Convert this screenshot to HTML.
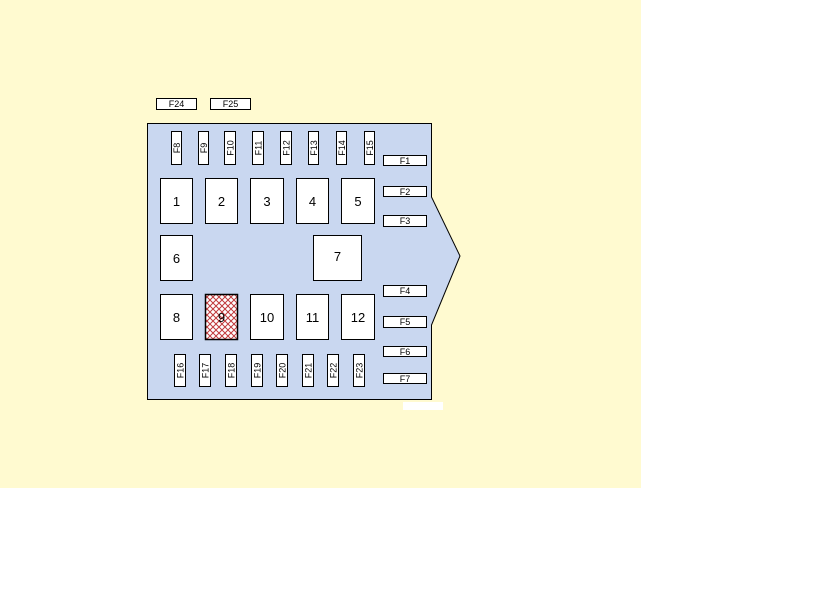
<!DOCTYPE html>
<html><head><style>
html,body{margin:0;padding:0;background:#fff;}
svg{display:block;}
text{font-family:"Liberation Sans",sans-serif;fill:#000;}
</style></head><body>
<svg width="820" height="615" viewBox="0 0 820 615" xmlns="http://www.w3.org/2000/svg">
<defs>
<pattern id="x" width="6" height="6" patternUnits="userSpaceOnUse">
<rect width="6" height="6" fill="#fff"/>
<path d="M0 0L6 6M6 0L0 6" stroke="#c0393b" stroke-width="1"/>
</pattern>
</defs>
<rect x="0" y="0" width="641" height="488" fill="#fffad0"/>
<rect x="403" y="402" width="40" height="8" fill="#fff"/>
<path d="M147.5 123.5H431.5V197L460 256L431.5 325V399.5H147.5Z" fill="#c9d7f0" stroke="#000" stroke-width="1"/>
<g stroke="#000" stroke-width="1" fill="#fff">
<rect x="156.5" y="98.5" width="40" height="11"/>
<rect x="210.5" y="98.5" width="40" height="11"/>
<rect x="383.5" y="155.5" width="43" height="10"/>
<rect x="383.5" y="186.5" width="43" height="10"/>
<rect x="383.5" y="215.5" width="43" height="11"/>
<rect x="383.5" y="285.5" width="43" height="11"/>
<rect x="383.5" y="316.5" width="43" height="11"/>
<rect x="383.5" y="346.5" width="43" height="10"/>
<rect x="383.5" y="373.5" width="43" height="10"/>
<rect x="171.5" y="131.5" width="10" height="33"/>
<rect x="198.5" y="131.5" width="10" height="33"/>
<rect x="224.5" y="131.5" width="11" height="33"/>
<rect x="252.5" y="131.5" width="11" height="33"/>
<rect x="280.5" y="131.5" width="11" height="33"/>
<rect x="308.5" y="131.5" width="10" height="33"/>
<rect x="336.5" y="131.5" width="10" height="33"/>
<rect x="364.5" y="131.5" width="10" height="33"/>
<rect x="174.5" y="354.5" width="11" height="32"/>
<rect x="199.5" y="354.5" width="11" height="32"/>
<rect x="225.5" y="354.5" width="11" height="32"/>
<rect x="251.5" y="354.5" width="11" height="32"/>
<rect x="276.5" y="354.5" width="11" height="32"/>
<rect x="302.5" y="354.5" width="11" height="32"/>
<rect x="327.5" y="354.5" width="11" height="32"/>
<rect x="353.5" y="354.5" width="11" height="32"/>
<rect x="160.5" y="178.5" width="32" height="45"/>
<rect x="205.5" y="178.5" width="32" height="45"/>
<rect x="250.5" y="178.5" width="33" height="45"/>
<rect x="296.5" y="178.5" width="32" height="45"/>
<rect x="341.5" y="178.5" width="33" height="45"/>
<rect x="160.5" y="235.5" width="32" height="45"/>
<rect x="313.5" y="235.5" width="48" height="45"/>
<rect x="160.5" y="294.5" width="32" height="45"/>
<rect x="250.5" y="294.5" width="33" height="45"/>
<rect x="296.5" y="294.5" width="32" height="45"/>
<rect x="341.5" y="294.5" width="33" height="45"/>
</g>
<rect x="205.5" y="294.5" width="32" height="45" fill="url(#x)" stroke="#000" stroke-width="1.5"/>
<g font-size="9" text-anchor="middle">
<text x="176.5" y="107">F24</text><text x="230.5" y="107">F25</text>
<text x="405" y="164">F1</text><text x="405" y="195">F2</text><text x="405" y="224">F3</text>
<text x="405" y="294">F4</text><text x="405" y="325">F5</text><text x="405" y="355">F6</text><text x="405" y="382">F7</text>
</g>
<g font-size="9" text-anchor="middle">
<text transform="translate(180,148) rotate(-90)">F8</text>
<text transform="translate(207,148) rotate(-90)">F9</text>
<text transform="translate(233.5,148) rotate(-90)">F10</text>
<text transform="translate(261.5,148) rotate(-90)">F11</text>
<text transform="translate(289.5,148) rotate(-90)">F12</text>
<text transform="translate(317,148) rotate(-90)">F13</text>
<text transform="translate(345,148) rotate(-90)">F14</text>
<text transform="translate(373,148) rotate(-90)">F15</text>
<text transform="translate(183.5,370.5) rotate(-90)">F16</text>
<text transform="translate(208.5,370.5) rotate(-90)">F17</text>
<text transform="translate(234.5,370.5) rotate(-90)">F18</text>
<text transform="translate(260.5,370.5) rotate(-90)">F19</text>
<text transform="translate(285.5,370.5) rotate(-90)">F20</text>
<text transform="translate(311.5,370.5) rotate(-90)">F21</text>
<text transform="translate(336.5,370.5) rotate(-90)">F22</text>
<text transform="translate(362.5,370.5) rotate(-90)">F23</text>
</g>
<g font-size="13" text-anchor="middle">
<text x="176.5" y="206">1</text><text x="221.5" y="206">2</text><text x="267" y="206">3</text><text x="312.5" y="206">4</text><text x="358" y="206">5</text>
<text x="176.5" y="263">6</text><text x="337.5" y="261">7</text>
<text x="176.5" y="322">8</text><text x="221.5" y="322">9</text><text x="267" y="322">10</text><text x="312.5" y="322">11</text><text x="358" y="322">12</text>
</g>
</svg>
</body></html>
